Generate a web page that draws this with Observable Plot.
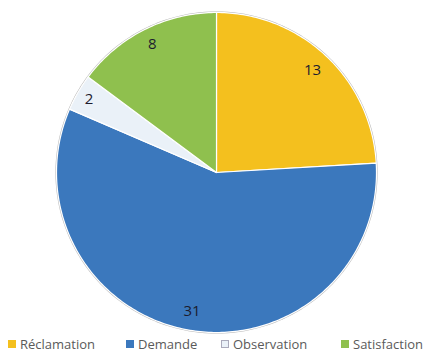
<!DOCTYPE html>
<html>
<head>
<meta charset="utf-8">
<script src="https://cdn.jsdelivr.net/npm/d3@7"></script>
<script src="https://cdn.jsdelivr.net/npm/@observablehq/plot@0.6"></script>
<style>
  html, body { margin: 0; padding: 0; background: #fff; }
  body { width: 426px; height: 353px; overflow: hidden; font-family: "Open Sans", "Noto Sans", sans-serif; }
  #legend { display: flex; height: 18px; align-items: center; font-size: 13px; color: #5a5a5a; position: relative; }
  .item { position: absolute; display: flex; align-items: center; white-space: nowrap; }
  .sw { width: 8px; height: 8px; margin-right: 4px; box-sizing: border-box; }
</style>
</head>
<body>
<div id="chart"></div>
<div id="legend"></div>
<script>
const categories = ["Réclamation", "Demande", "Observation", "Satisfaction"];
const values = [13, 31, 2, 8];
const colors = ["#F4C01E", "#3B78BD", "#EAF1F8", "#8FC04E"];
const legendX = [8, 126, 221, 341];

const pie = d3.pie().sort(null).value(d => d.value);
const arcs = pie(categories.map((c, i) => ({category: c, value: values[i]})));

const pts = [];
arcs.forEach(a => {
  pts.push({category: a.data.category, x: 0, y: 0});
  const n = Math.max(4, Math.ceil((a.endAngle - a.startAngle) * 60));
  for (let k = 0; k <= n; k++) {
    const t = a.startAngle + (a.endAngle - a.startAngle) * k / n;
    pts.push({category: a.data.category, x: Math.sin(t), y: Math.cos(t)});
  }
  pts.push({category: a.data.category, x: 0, y: 0});
});
const labelR = [0.875, 0.88, 0.92, 0.895];
const labels = arcs.map((a, i) => {
  const m = (a.startAngle + a.endAngle) / 2;
  return {text: String(a.data.value), x: labelR[i] * Math.sin(m), y: labelR[i] * Math.cos(m)};
});
const outline = d3.range(0, 361, 2).map(d => ({x: Math.sin(d * Math.PI / 180), y: Math.cos(d * Math.PI / 180)}));

const cx = 216, cy = 172, R = 160;
const chart = Plot.plot({
  width: 426, height: 335,
  margin: 0,
  x: {domain: [-1, 1], range: [cx - R, cx + R], axis: null},
  y: {domain: [-1, 1], range: [cy + R, cy - R], axis: null},
  color: {domain: categories, range: colors},
  marks: [
    Plot.line(outline, {x: "x", y: "y", stroke: "#9a9a9a", strokeWidth: 2.2, strokeOpacity: 0.7}),
    Plot.line(pts, {x: "x", y: "y", z: "category", fill: "category", stroke: "#ffffff", strokeWidth: 1.2, curve: "linear"}),
    Plot.text(labels, {x: "x", y: "y", text: "text", fontSize: 15, fill: "#1c1c2e", fontFamily: "Open Sans"})
  ]
});
document.getElementById("chart").appendChild(chart);

const lg = document.getElementById("legend");
categories.forEach((c, i) => {
  const it = document.createElement("div");
  it.className = "item";
  it.style.left = legendX[i] + "px";
  const sw = document.createElement("div");
  sw.className = "sw";
  sw.style.background = colors[i];
  if (i === 2) sw.style.border = "1px solid #aab";
  const tx = document.createElement("span");
  tx.textContent = c;
  it.appendChild(sw); it.appendChild(tx);
  lg.appendChild(it);
});
</script>
</body>
</html>
